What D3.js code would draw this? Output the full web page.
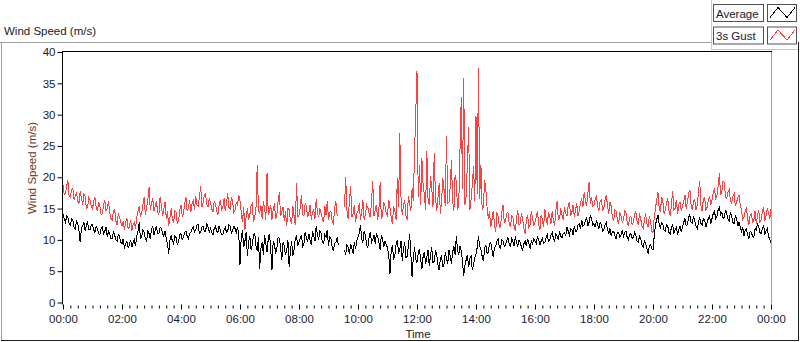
<!DOCTYPE html>
<html>
<head>
<meta charset="utf-8">
<script src="https://cdn.jsdelivr.net/npm/d3@7"></script>
<style>
  body { margin: 0; background: #fff; }
  svg { display: block; font-family: "Liberation Sans", Arial, sans-serif; }
</style>
</head>
<body>
<div id="chart"></div>
<script>
// readings every 2.5 minutes from 00:00, one row per hour (null = no data)
var gust = [
  18.8,17.2, 17.5,18.6, 19.5,16.9, 16.8,18.0, 18.2,16.4, 17.0,17.6, 16.2,15.8, 17.8,16.6, 15.6,17.4, 16.9,15.0, 15.2,16.8, 16.4,15.4,
  15.0,16.2, 16.8,15.2, 14.6,16.0, 15.4,14.0, 14.2,15.6, 16.3,14.6, 15.0,16.2, 14.4,13.4, 13.2,14.6, 14.8,13.0, 12.4,14.2, 13.6,12.8,
  12.2,13.0, 11.6,12.8, 13.4,11.8, 12.0,13.2, 11.5,12.4, 12.8,11.8, 13.6,14.6, 15.4,13.8, 14.2,15.6, 16.8,14.0, 15.2,16.4, 18.4,14.8,
  15.8,16.6, 14.6,15.4, 16.2,14.4, 14.0,16.8, 15.6,13.8, 14.8,16.0, 13.4,14.6, 12.2,13.6, 15.0,13.2, 12.8,14.6, 14.4,12.6, 13.0,14.8,
  15.6,13.8, 14.2,15.8, 16.8,14.6, 15.0,16.4, 14.4,15.8, 16.2,14.8, 17.0,15.6, 15.4,16.8, 18.6,15.2, 16.0,17.2, 17.4,15.6, 15.2,16.6,
  16.0,15.0, 14.4,16.2, 15.8,14.6, 14.0,15.6, 16.4,14.8, 15.2,16.6, 14.6,15.8, 17.4,15.2, 15.0,16.8, 16.2,14.4, 14.8,16.0, 15.6,17.2,
  16.2,14.4, 12.8,15.2, 11.6,13.8, 15.0,13.2, 14.0,15.4, 15.8,12.8, 13.6,15.0, 22.0,14.6, 14.2,15.6, 13.4,16.2, 15.0,13.2, 20.6,14.0,
  14.6,15.6, 13.2,14.8, 15.8,13.4, 14.0,16.2, 17.6,13.8, 14.4,15.2, 13.0,14.6, 12.2,15.0, 14.8,13.2, 12.6,15.4, 13.8,12.4, 19.0,13.6,
  14.0,15.2, 17.2,14.0, 13.8,15.8, 15.4,13.6, 14.2,15.6, 13.2,14.4, 14.8,13.4, 16.6,14.2, 13.6,15.0, 14.2,13.4, 12.8,15.4, 14.0,16.2,
  13.2,14.4, 14.6,13.0, 12.6,15.0, 16.2,14.0, 13.8,null, null,null, null,15.2, 20.0,14.6, 13.4,16.0, 18.6,13.6, 14.2,15.6, 12.8,14.2,
  14.6,15.8, 13.2,14.4, 16.4,13.2, 14.0,15.6, 15.2,14.2, 13.6,16.2, 19.4,13.8, 14.8,15.6, 13.2,14.8, 19.2,13.4, 14.0,16.0, 15.4,14.2,
  13.8,16.4, 15.2,13.6, 12.6,15.4, 14.6,13.2, 19.8,15.2, 27.0,16.8, 14.0,15.6, 16.4,13.8, 13.2,17.0, 15.8,14.6, 18.2,16.2, 24.0,30.4,
  37.0,16.8, 22.0,15.6, 23.0,18.6, 17.2,14.8, 24.2,16.4, 15.6,20.2, 18.4,15.2, 23.8,17.0, 14.6,16.6, 19.0,14.2, 16.2,19.8, 18.0,15.4,
  26.6,15.8, 16.0,18.4, 22.8,16.2, 14.6,20.4, 19.2,14.8, 15.8,24.6, 32.8,18.2, 35.8,15.6, 17.0,22.4, 28.0,14.8, 16.4,18.8, 21.8,16.2,
  29.8,17.4, 37.4,16.6, 22.0,14.8, 15.2,19.6, 18.0,15.2, 13.4,14.6, 12.0,13.2, 14.6,12.6, 11.2,14.4, 13.8,12.0, 12.2,14.4, 15.6,12.8,
  13.0,14.2, 14.4,12.6, 12.0,13.8, 13.6,12.2, 11.4,13.4, 14.8,12.4, 12.6,14.2, 13.2,11.8, 11.0,13.2, 14.0,12.0, 12.4,14.6, 13.6,12.2,
  12.8,13.6, 14.6,12.4, 11.6,14.0, 13.2,12.0, 15.0,13.4, 12.4,14.4, 13.8,12.6, 14.6,13.0, 12.2,14.8, 16.2,13.2, 13.4,15.0, 14.0,13.2,
  15.2,14.2, 13.8,15.4, 16.0,13.8, 14.4,15.6, 13.6,14.8, 15.8,13.8, 14.6,16.0, 16.6,15.2, 17.6,16.2, 15.4,17.4, 19.2,15.8, 16.8,15.4,
  15.6,16.6, 17.0,15.2, 14.6,16.2, 16.4,14.8, 15.0,16.4, 17.2,15.4, 14.2,16.0, 15.4,13.6, 13.0,14.8, 14.6,13.2, 12.6,14.4, 13.8,12.8,
  13.2,14.6, 14.4,12.8, 12.2,13.6, 13.8,12.4, 12.8,14.0, 14.6,13.0, 12.4,14.2, 13.4,12.2, 11.8,13.2, 14.2,12.6, 12.0,13.8, 13.0,11.4,
  11.2,13.6, 15.0,16.4, 17.6,15.2, 14.4,16.8, 16.2,14.2, 14.8,15.8, 16.6,14.6, 13.8,15.6, 17.8,14.8, 15.0,16.4, 14.2,15.6, 16.0,14.6,
  15.4,16.2, 17.2,15.0, 16.0,17.4, 18.0,15.6, 14.8,16.2, 16.4,14.8, 15.6,17.6, 19.4,15.4, 14.6,16.6, 16.8,14.8, 15.2,16.4, 17.0,15.6,
  16.4,17.6, 18.2,16.6, 17.0,18.6, 20.6,17.2, 17.8,19.4, 19.2,16.8, 16.6,17.6, 18.0,16.2, 15.8,17.0, 17.4,15.4, 16.0,16.8, 17.2,15.6,
  14.8,13.2, 13.6,14.6, 15.0,13.4, 12.4,14.0, 14.2,12.8, 13.0,14.6, 12.6,13.8, 14.8,12.8, 13.2,14.6, 15.2,13.0, 13.8,15.0, 14.4,13.4,
  15.0
];
var average = [
  14.2,13.4, 12.8,13.8, 13.6,12.6, 12.4,13.4, 13.2,12.0, 11.8,13.0, 12.6,11.4, 9.6,12.0, 12.2,12.8, 11.4,12.4, 12.8,11.6, 11.6,12.4,
  12.4,11.6, 11.2,12.2, 11.8,11.0, 10.8,11.8, 12.0,11.0, 11.4,12.0, 10.4,11.4, 11.0,10.2, 10.2,11.2, 10.8,10.0, 9.8,10.8, 10.6,9.6,
  9.4,10.2, 8.6,9.4, 9.8,8.8, 9.2,10.0, 8.8,9.6, 10.0,9.0, 10.6,11.4, 12.8,10.2, 10.4,11.6, 11.2,10.2, 9.8,11.4, 11.0,10.2,
  11.6,12.2, 10.8,11.6, 12.2,11.0, 11.0,12.0, 11.8,11.0, 10.6,11.4, 10.2,9.4, 7.8,10.0, 10.6,9.8, 9.4,10.6, 10.4,9.2, 9.8,10.8,
  11.0,10.0, 10.4,11.2, 11.4,10.6, 10.2,11.0, 11.2,11.8, 12.0,11.2, 11.6,12.4, 12.4,11.0, 11.2,12.0, 12.2,11.4, 11.4,12.6, 12.0,11.2,
  11.8,11.2, 10.8,11.8, 12.2,11.4, 11.2,12.2, 11.6,10.8, 10.8,11.6, 12.0,11.2, 11.4,12.4, 12.2,11.0, 11.6,12.2, 11.8,11.2, 12.0,11.0,
  6.0,10.4, 11.6,8.8, 9.8,11.2, 7.4,9.6, 10.6,8.4, 9.2,10.8, 11.0,9.0, 8.2,10.4, 5.4,8.6, 9.6,7.6, 10.8,9.4, 8.0,10.2,
  11.0,8.6, 5.2,9.8, 9.4,7.8, 8.6,10.4, 10.2,8.8, 6.8,9.6, 9.0,7.6, 8.2,10.0, 5.6,8.2, 9.8,7.4, 8.4,10.2, 10.6,9.0,
  9.6,10.2, 10.8,9.0, 9.4,11.2, 10.4,9.6, 11.0,10.0, 9.2,11.4, 10.6,9.8, 12.2,10.8, 10.0,11.4, 11.0,9.6, 9.4,10.8, 10.4,11.6,
  9.0,10.4, 10.2,8.8, 8.2,9.4, 9.6,10.4, 9.2,null, null,null, null,8.4, 7.6,9.2, 8.8,7.8, 9.4,8.6, 7.8,9.6, 8.6,9.8,
  10.4,11.0, 12.4,10.2, 9.6,11.4, 10.8,9.2, 8.8,10.4, 11.2,9.6, 10.0,10.8, 9.4,11.0, 10.6,9.6, 8.4,10.8, 10.2,8.8, 9.8,9.2,
  8.8,7.6, 4.6,8.2, 9.2,6.8, 7.6,9.4, 10.0,8.0, 8.4,9.8, 6.6,8.6, 9.6,7.2, 7.4,9.0, 11.0,7.8, 4.0,7.2, 8.8,6.8,
  6.4,7.8, 8.6,6.8, 5.4,7.4, 8.0,6.2, 7.2,8.4, 5.8,7.6, 8.8,6.4, 6.6,8.2, 7.8,6.0, 5.2,7.0, 7.4,5.6, 6.2,8.0,
  7.0,6.2, 8.4,7.4, 6.2,8.0, 9.0,7.6, 10.6,8.4, 7.6,9.0, 8.2,6.6, 4.2,6.0, 6.8,7.6, 5.6,7.0, 7.4,5.2, 6.0,7.2,
  7.8,8.8, 10.6,9.0, 8.4,7.4, 6.6,8.6, 9.2,7.8, 8.0,9.4, 9.6,8.4, 7.2,8.8, 9.0,9.8, 10.2,8.8, 8.6,10.0, 9.8,9.0,
  9.2,9.8, 10.4,9.4, 8.8,10.2, 9.8,9.0, 10.6,9.6, 9.0,10.0, 9.6,8.8, 8.4,9.4, 9.8,9.0, 10.2,9.4, 8.6,9.8, 9.4,10.2,
  9.8,9.4, 10.6,10.0, 9.2,9.8, 10.2,9.4, 9.6,10.4, 10.8,9.8, 10.0,10.8, 11.2,10.2, 9.8,11.0, 10.6,10.0, 11.4,10.6, 10.4,11.0,
  11.2,10.6, 12.0,11.4, 10.8,11.8, 11.6,10.8, 12.2,11.4, 11.4,12.4, 12.6,11.8, 13.2,12.2, 12.4,13.0, 13.6,12.2, 12.8,13.8, 13.4,12.4,
  12.6,12.0, 13.2,12.4, 11.8,12.8, 12.4,11.4, 11.6,12.4, 12.8,11.6, 11.0,11.8, 10.6,11.4, 11.4,10.6, 10.2,11.2, 11.2,10.4, 10.8,11.6,
  10.6,11.2, 11.4,10.4, 10.0,10.8, 11.0,10.2, 10.4,11.2, 10.8,9.8, 9.6,10.6, 10.2,9.2, 8.8,9.8, 9.4,8.6, 7.8,9.0, 9.2,8.6,
  8.4,10.6, 12.4,13.2, 14.0,12.6, 11.8,12.8, 12.6,11.6, 11.4,12.4, 12.2,11.2, 11.0,12.0, 12.4,11.0, 11.6,12.0, 10.8,11.6, 12.2,11.2,
  12.0,12.8, 13.4,12.2, 12.4,13.6, 14.0,12.8, 12.6,13.8, 13.0,12.2, 11.8,12.8, 13.6,12.6, 12.4,13.4, 13.2,12.0, 12.8,13.4, 13.8,12.6,
  13.4,14.2, 14.6,13.4, 13.8,14.8, 15.2,14.0, 14.4,13.4, 13.6,14.8, 14.2,13.4, 13.0,14.4, 13.8,12.8, 12.6,13.8, 13.4,12.2, 12.8,12.0,
  11.4,12.0, 10.6,11.6, 11.8,10.8, 10.2,11.4, 11.2,10.6, 10.4,11.8, 11.6,12.6, 12.2,11.2, 11.0,11.8, 12.4,10.8, 11.4,11.8, 10.6,10.0,
  9.6
];
var yTicks = [0, 5, 10, 15, 20, 25, 30, 35, 40];
var legendNames = ["Average", "3s Gust"];
var seriesColors = ["#000000", "#ff4040"];

var W = 800, H = 342;
var plot = {left: 63, right: 771, top: 52, bottom: 302.5};

var svg = d3.select("#chart")
  .append("svg")
    .attr("width", W)
    .attr("height", H);

var t0 = new Date(Date.UTC(2020, 0, 1, 0, 0));
var t1 = new Date(Date.UTC(2020, 0, 2, 0, 0));
function timeAt(i) { return new Date(t0.getTime() + i * 150000); }

var x = d3.scaleUtc()
  .domain([t0, t1])
  .range([plot.left, plot.right]);

var y = d3.scaleLinear()
  .domain([0, 40])
  .range([plot.bottom, plot.top]);

// outer frame of the chart
svg.append("line").attr("x1", 0).attr("x2", 711).attr("y1", 42.5).attr("y2", 42.5).attr("stroke", "#a0a0a0");
svg.append("line").attr("x1", 1.5).attr("x2", 1.5).attr("y1", 42).attr("y2", 340).attr("stroke", "#a0a0a0");
svg.append("line").attr("x1", 1).attr("x2", 799).attr("y1", 340.5).attr("y2", 340.5).attr("stroke", "#202020");
svg.append("line").attr("x1", 798.5).attr("x2", 798.5).attr("y1", 42).attr("y2", 341).attr("stroke", "#202020");

svg.append("text")
  .attr("x", 4)
  .attr("y", 35)
  .attr("font-size", "11.5px")
  .attr("fill", "#1a1a1a")
  .text("Wind Speed (m/s)");

// plot area
svg.append("rect")
  .attr("x", plot.left).attr("y", plot.top)
  .attr("width", plot.right - plot.left)
  .attr("height", plot.bottom - plot.top)
  .attr("fill", "#fff");
svg.append("line").attr("x1", plot.right + 0.5).attr("x2", plot.right + 0.5)
  .attr("y1", plot.top).attr("y2", plot.bottom + 1).attr("stroke", "#a0a0a0");
svg.append("line").attr("x1", plot.left).attr("x2", plot.right + 1)
  .attr("y1", plot.top - 0.5).attr("y2", plot.top - 0.5).attr("stroke", "#000");

// y axis
var yAxis = svg.append("g")
  .attr("transform", "translate(" + (plot.left - 0.5) + ",0)")
  .call(d3.axisLeft(y).tickValues(yTicks).tickSize(5).tickPadding(2).tickSizeOuter(0));
yAxis.select(".domain").attr("stroke", "#000").attr("d", "M0," + (plot.top - 1) + "V" + (plot.bottom + 2));
yAxis.selectAll("text").attr("font-size", "11.5px").attr("fill", "#1a1a2e").attr("font-family", "Liberation Sans, Arial, sans-serif");
yAxis.selectAll(".tick line").attr("stroke", "#000");

svg.append("text")
  .attr("transform", "translate(36,168) rotate(-90)")
  .attr("text-anchor", "middle")
  .attr("font-size", "11.5px")
  .attr("fill", "#6a3a1c")
  .text("Wind Speed (m/s)");

// x axis: minor ticks every 15 min, labels every 2 h
var xMinor = svg.append("g")
  .attr("transform", "translate(0," + (plot.bottom + 2) + ")")
  .call(d3.axisBottom(x).ticks(d3.utcMinute.every(15)).tickSize(3).tickFormat(""));
xMinor.select(".domain").remove();
xMinor.selectAll(".tick line").attr("stroke", "#000").attr("transform", "translate(0,1)");

var xMajor = svg.append("g")
  .attr("transform", "translate(0," + (plot.bottom + 2) + ")")
  .call(d3.axisBottom(x).ticks(d3.utcHour.every(2)).tickSize(5).tickPadding(5)
    .tickFormat(d3.utcFormat("%H:%M")));
xMajor.select(".domain").remove();
xMajor.selectAll(".tick line").attr("stroke", "#000");
xMajor.selectAll("text").attr("font-size", "11.5px").attr("fill", "#1a1a2e").attr("font-family", "Liberation Sans, Arial, sans-serif");

svg.append("text")
  .attr("x", 418)
  .attr("y", 338)
  .attr("text-anchor", "middle")
  .attr("font-size", "11.5px")
  .attr("fill", "#1a1a1a")
  .text("Time");

// series
var line = d3.line()
  .defined(function(d) { return d != null; })
  .x(function(d, i) { return x(timeAt(i)); })
  .y(function(d) { return y(d); });

[average, gust].forEach(function(s, k) {
  svg.append("path")
    .datum(s)
    .attr("d", line)
    .attr("fill", "none")
    .attr("stroke", seriesColors[k])
    .attr("stroke-width", 1)
    .attr("shape-rendering", "crispEdges");
});

// legend
var lg = svg.append("g");
lg.append("line").attr("x1", 711.5).attr("x2", 711.5).attr("y1", 0).attr("y2", 49).attr("stroke", "#c8c8c8");
lg.append("line").attr("x1", 711).attr("x2", 798).attr("y1", 49.5).attr("y2", 49.5).attr("stroke", "#c8c8c8");

legendNames.forEach(function(name, k) {
  var top = 4.5 + k * 22.5;
  lg.append("rect")
    .attr("x", 713.5).attr("y", top)
    .attr("width", 50).attr("height", 17)
    .attr("fill", "#fcfcfc").attr("stroke", "#505050");
  lg.append("text")
    .attr("x", 716).attr("y", top + 13)
    .attr("font-size", "11.5px")
    .attr("fill", "#1a1a2e")
    .text(name);
  lg.append("rect")
    .attr("x", 767.5).attr("y", top)
    .attr("width", 29).attr("height", 17)
    .attr("fill", "#fff").attr("stroke", "#505050");
  lg.append("path")
    .attr("d", "M770," + (top + 13) + "L778," + (top + 3) + "L787," + (top + 13) + "L795," + (top + 3))
    .attr("fill", "none")
    .attr("stroke", seriesColors[k])
    .attr("shape-rendering", "crispEdges");
});
</script>
</body>
</html>
